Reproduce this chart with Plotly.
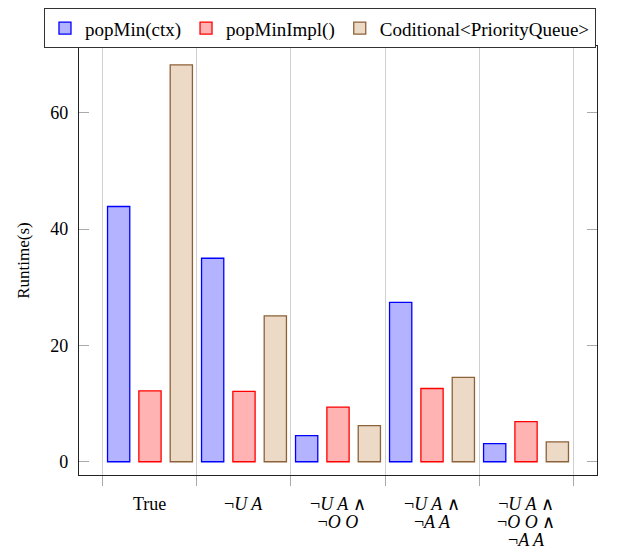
import plotly.graph_objects as go

categories = [1, 2, 3, 4, 5]
cat_label_lines = [
    ["True"],
    ["¬<i>U A</i>"],
    ["¬<i>U A</i> ∧", "¬<i>O O</i>"],
    ["¬<i>U A</i> ∧", "¬<i>A A</i>"],
    ["¬<i>U A</i> ∧", "¬<i>O O</i> ∧", "¬<i>A A</i>"],
]
series_names = ["popMin(ctx)", "popMinImpl()", "Coditional&lt;PriorityQueue&gt;"]
pop_min_ctx = [43.9, 35.0, 4.5, 27.4, 3.1]
pop_min_impl = [12.2, 12.1, 9.4, 12.6, 6.9]
conditional_pq = [68.25, 25.1, 6.2, 14.5, 3.4]
boundaries = [0.5, 1.5, 2.5, 3.5, 4.5, 5.5]
y_ticks = [0, 20, 40, 60]

fills = ["#b3b3ff", "#ffb3b3", "#ecd9c6"]
lines = ["#0000ff", "#ff0000", "#8c6239"]

FONT = "Liberation Serif"

fig = go.Figure()
for name, vals, fc, lc in zip(series_names, [pop_min_ctx, pop_min_impl, conditional_pq], fills, lines):
    fig.add_trace(go.Bar(
        x=categories, y=vals, name=name,
        marker=dict(color=fc, line=dict(color=lc, width=1.3)),
    ))

# multi-line category labels below the axis (tight line spacing like the reference)
for cat, lab_lines in zip(categories, cat_label_lines):
    txt = "<br>".join("<span style='font-size:18px'>%s</span>" % s for s in lab_lines)
    fig.add_annotation(
        x=cat, xref="x", y=0, yref="paper",
        text=txt, showarrow=False,
        xanchor="center", yanchor="top",
        yshift=-17,
        font=dict(family=FONT, size=14, color="black"),
    )

fig.update_layout(
    width=613, height=543,
    margin=dict(l=71, r=24, t=38, b=76, autoexpand=False),
    barmode="group", bargap=0.0, bargroupgap=0.29,
    plot_bgcolor="white", paper_bgcolor="white",
    font=dict(family=FONT, size=17, color="black"),
    showlegend=True,
    legend=dict(
        orientation="h", x=-0.0676, y=1.088, xanchor="left", yanchor="top",
        bordercolor="#333333", borderwidth=1, bgcolor="white",
        font=dict(family=FONT, size=19),
        itemwidth=30, tracegroupgap=0,
    ),
    xaxis=dict(
        range=[0.245, 5.755],
        tickmode="array", tickvals=categories, showticklabels=False,
        ticks="", showgrid=False, zeroline=False,
        showline=True, linecolor="#222222", linewidth=1.3, mirror=True,
        automargin=False,
        minor=dict(tickmode="array", tickvals=boundaries, ticks="outside",
                   ticklen=10, tickcolor="#aaaaaa", tickwidth=1,
                   showgrid=True, gridcolor="#d0d0d0", gridwidth=1),
    ),
    yaxis=dict(
        range=[-2.28, 71.5],
        tickmode="array", tickvals=y_ticks,
        ticks="inside", ticklen=10, tickcolor="#aaaaaa", tickwidth=1,
        showgrid=False, zeroline=False,
        showline=True, linecolor="#222222", linewidth=1.3, mirror="ticks",
        tickfont=dict(family=FONT, size=18),
        ticklabelstandoff=6,
        automargin=False,
        title=dict(text="Runtime(s)", font=dict(family=FONT, size=17), standoff=16),
    ),
)

fig.write_html("out.html")
